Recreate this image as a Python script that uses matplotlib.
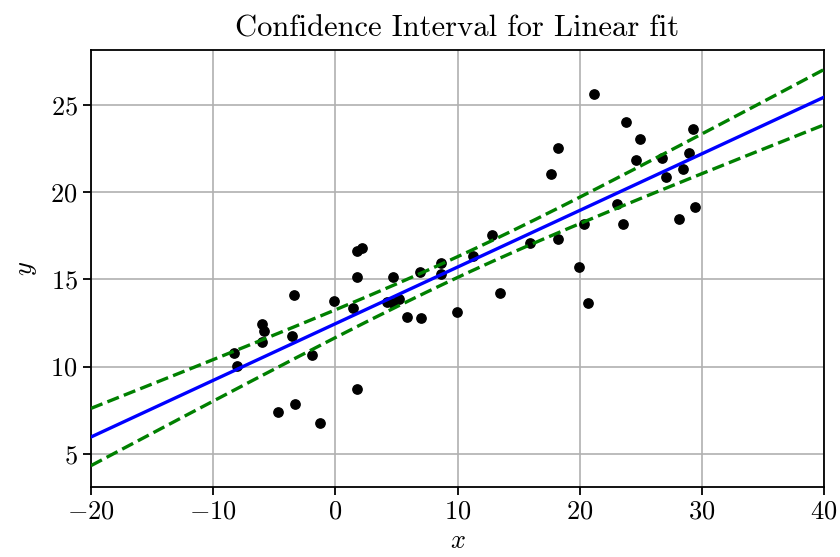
import numpy as np
import matplotlib
matplotlib.use("Agg")
import matplotlib.pyplot as plt

plt.rcParams['font.family'] = 'serif'
plt.rcParams['font.serif'] = ['cmr10']
plt.rcParams['mathtext.fontset'] = 'cm'
plt.rcParams['axes.formatter.use_mathtext'] = True

# Data points
x_data = [-8.30, -8.05, -6.00, -5.84, -6.00, -3.39, -3.55, -4.70, -3.31, -1.92,
          -1.26, -0.11, 1.44, 1.77, 2.18, 1.77, 1.77, 4.22, 4.72, 5.20,
          4.72, 5.86, 7.00, 6.92, 8.64, 8.64, 9.95, 11.26, 12.81, 13.47,
          15.93, 18.22, 21.16, 18.22, 17.64, 23.78, 24.93, 24.60, 26.73, 29.27,
          28.94, 28.45, 27.05, 23.04, 20.34, 23.54, 28.12, 29.43, 19.93, 20.67]
y_data = [10.79, 10.04, 12.45, 12.05, 11.42, 14.11, 11.76, 7.41, 7.87, 10.67,
          6.78, 13.77, 13.37, 16.63, 16.81, 15.14, 8.72, 13.71, 13.65, 13.85,
          15.14, 12.85, 12.79, 15.43, 15.95, 15.30, 13.14, 16.35, 17.55, 14.23,
          17.09, 17.32, 25.63, 22.54, 21.05, 24.03, 23.05, 21.85, 21.96, 23.62,
          22.25, 21.33, 20.87, 19.33, 18.18, 18.18, 18.47, 19.15, 15.72, 13.65]

x = np.array(x_data)
y = np.array(y_data)
n = len(x)

# Linear fit and 90% confidence interval of the mean
slope, intercept = np.polyfit(x, y, 1)
resid = y - (slope * x + intercept)
s_err = np.sqrt(np.sum(resid ** 2) / (n - 2))
t_val = 1.677  # t(0.95, n-2)

x_line = np.linspace(-20, 40, 200)
y_line = slope * x_line + intercept
ci = t_val * s_err * np.sqrt(1 / n + (x_line - x.mean()) ** 2 / np.sum((x - x.mean()) ** 2))

fig = plt.figure(figsize=(8.4, 5.57), dpi=100)
ax = fig.add_axes([0.1083, 0.1257, 0.8727, 0.7845])

ax.scatter(x, y, s=45, color='black', zorder=3)
ax.plot(x_line, y_line, color='blue', linewidth=2.4, zorder=4)
ax.plot(x_line, y_line + ci, color='green', linestyle='--', linewidth=2.4, zorder=4)
ax.plot(x_line, y_line - ci, color='green', linestyle='--', linewidth=2.4, zorder=4)

ax.set_xlim(-20, 40)
ax.set_ylim(3.1, 28.15)
ax.set_xticks([-20, -10, 0, 10, 20, 30, 40])
ax.set_yticks([5, 10, 15, 20, 25])
ax.grid(True, color='#b0b0b0', linewidth=1.2)
ax.set_axisbelow(True)
for sp in ax.spines.values():
    sp.set_linewidth(1.3)
ax.tick_params(labelsize=19, width=1.3, length=6)

ax.set_title("Confidence Interval for Linear fit", fontsize=22, pad=10)
ax.set_xlabel("$x$", fontsize=19, labelpad=4)
ax.set_ylabel("$y$", fontsize=19, labelpad=8)

plt.savefig("out.png", dpi=100)
